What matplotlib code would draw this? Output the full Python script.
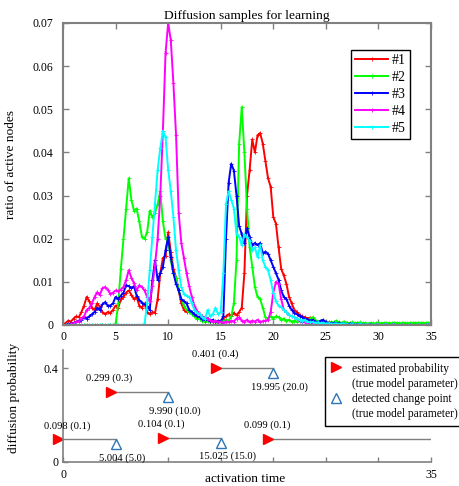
import matplotlib
matplotlib.use("Agg")
import matplotlib.pyplot as plt
import numpy as np
from matplotlib.lines import Line2D
from matplotlib.ticker import FuncFormatter
from matplotlib.transforms import offset_copy

plt.rcParams["font.family"] = ["Liberation Serif", "DejaVu Serif"]

# sample times (every 0.25 time unit, 0..35)
T_END = 35
SAMPLE_TIME = np.arange(0, T_END + 0.125, 0.25)

# ratio of active nodes per diffusion sample, 8 values (2 time units) per row
RATIO_1 = [
    0, 0.0005, 0.001, 0.0008, 0.0015, 0.002, 0.0018, 0.003,
    0.0045, 0.0065, 0.0055, 0.004, 0.0035, 0.005, 0.0042, 0.003,
    0.0025, 0.003, 0.0028, 0.0035, 0.0045, 0.004, 0.006, 0.0065,
    0.0075, 0.008, 0.007, 0.006, 0.0065, 0.0045, 0.004, 0.005,
    0.003, 0.0025, 0.003, 0.0028, 0.006, 0.012, 0.0155, 0.016,
    0.0215, 0.017, 0.013, 0.011, 0.008, 0.005, 0.0035, 0.003,
    0.0035, 0.0028, 0.0025, 0.0015, 0.002, 0.0012, 0.001, 0.0015,
    0.0008, 0.001, 0.0006, 0.0008, 0.001, 0.0015, 0.002, 0.0025,
    0.002, 0.0028, 0.0022, 0.003, 0.004, 0.012, 0.03, 0.036,
    0.043, 0.04, 0.044, 0.0445, 0.042, 0.038, 0.034, 0.032,
    0.025, 0.0235, 0.018, 0.013, 0.0115, 0.0095, 0.0065, 0.005,
    0.0035, 0.003, 0.0023, 0.002, 0.0018, 0.0015, 0.0017, 0.001,
    0.0008, 0.0007, 0.0006, 0.0005, 0.0004, 0.0006, 0.0003, 0.0004,
    0.0003, 0.0005, 0.0002, 0.0003, 0.0004, 0.0002, 0.0003, 0.0002,
    0.0002, 0.0001, 0.0002, 0.0003, 0.0001, 0.0002, 0.0001, 0.0001,
    0.0002, 0.0001, 0.0001, 0, 0.0001, 0, 0.0001, 0,
    0, 0, 0.0001, 0, 0, 0, 0, 0,
    0, 0, 0, 0, 0,
]
RATIO_2 = [
    0, 0, 0, 0, 0, 0, 0, 0,
    0, 0, 0, 0, 0, 0, 0, 0,
    0, 0, 0, 0, 0.0002, 0.005, 0.013, 0.02,
    0.027, 0.034, 0.029, 0.0265, 0.027, 0.024, 0.0205, 0.02,
    0.0215, 0.0265, 0.025, 0.026, 0.028, 0.031, 0.024, 0.02,
    0.0195, 0.015, 0.012, 0.011, 0.008, 0.006, 0.0045, 0.0035,
    0.003, 0.0025, 0.002, 0.0015, 0.0013, 0.001, 0.0008, 0.001,
    0.0008, 0.0006, 0.0008, 0.0005, 0.001, 0.0008, 0.0012, 0.001,
    0.002, 0.005, 0.015, 0.042, 0.0505, 0.04, 0.027, 0.018,
    0.0135, 0.0088, 0.0065, 0.006, 0.004, 0.0018, 0.0015, 0.002,
    0.0015, 0.002, 0.0018, 0.0012, 0.0015, 0.001, 0.0012, 0.0008,
    0.001, 0.0008, 0.0012, 0.0006, 0.0008, 0.001, 0.0015, 0.0018,
    0.0012, 0.0008, 0.001, 0.0006, 0.0008, 0.0005, 0.0007, 0.0006,
    0.001, 0.0006, 0.0005, 0.0008, 0.0005, 0.0004, 0.0006, 0.0005,
    0.0005, 0.0006, 0.0004, 0.0005, 0.0003, 0.0005, 0.0004, 0.0004,
    0.0005, 0.0004, 0.0005, 0.0004, 0.0005, 0.0004, 0.0005, 0.0005,
    0.0004, 0.0005, 0.0005, 0.0004, 0.0005, 0.0005, 0.0005, 0.0005,
    0.0005, 0.0005, 0.0005, 0.0005, 0.0005,
]
RATIO_3 = [
    0, 0, 0.0002, 0.0003, 0.0005, 0.0007, 0.001, 0.0012,
    0.0018, 0.0015, 0.002, 0.0025, 0.003, 0.004, 0.0035, 0.0048,
    0.0053, 0.0045, 0.0045, 0.005, 0.0065, 0.006, 0.0068, 0.0075,
    0.0092, 0.009, 0.0085, 0.009, 0.0068, 0.0058, 0.0052, 0.0048,
    0.0045, 0.0035, 0.0104, 0.015, 0.0104, 0.012, 0.0135, 0.0173,
    0.0203, 0.0157, 0.012, 0.0095, 0.008, 0.006, 0.0055, 0.005,
    0.0035, 0.003, 0.0025, 0.002, 0.0018, 0.0015, 0.0012, 0.0015,
    0.001, 0.0012, 0.0008, 0.001, 0.0008, 0.002, 0.02, 0.033,
    0.0374, 0.0358, 0.03, 0.023, 0.021, 0.019, 0.0224, 0.0203,
    0.0185, 0.019, 0.0185, 0.019, 0.0166, 0.017, 0.0165, 0.015,
    0.0135, 0.012, 0.0105, 0.008, 0.0065, 0.006, 0.0045, 0.0035,
    0.0028, 0.0025, 0.002, 0.0018, 0.0015, 0.0013, 0.001, 0.0012,
    0.0008, 0.0006, 0.001, 0.0012, 0.0006, 0.0005, 0.0004, 0.0004,
    0.0003, 0.0004, 0.0003, 0.0002, 0.0002, 0.0003, 0.0002, 0.0001,
    0.0002, 0.0001, 0.0001, 0.0001, 0, 0.0001, 0, 0,
    0, 0, 0, 0, 0, 0, 0, 0,
    0, 0, 0, 0, 0, 0, 0, 0,
    0, 0, 0, 0, 0,
]
RATIO_4 = [
    0, 0, 0, 0.0002, 0.0004, 0.0006, 0.0008, 0.0015,
    0.002, 0.0035, 0.004, 0.005, 0.0065, 0.0076, 0.007, 0.0085,
    0.0088, 0.0082, 0.0072, 0.0075, 0.008, 0.0078, 0.0082, 0.0088,
    0.0104, 0.0127, 0.011, 0.0097, 0.008, 0.0092, 0.0088, 0.008,
    0.0065, 0.0055, 0.009, 0.014, 0.02, 0.03, 0.045, 0.063,
    0.07, 0.066, 0.056, 0.044, 0.026, 0.019, 0.0155, 0.012,
    0.009, 0.0065, 0.0045, 0.0032, 0.0025, 0.002, 0.0018, 0.0015,
    0.0012, 0.0008, 0.001, 0.0006, 0.0008, 0.0005, 0.0008, 0.0006,
    0.001, 0.0008, 0.0015, 0.0018, 0.001, 0.0008, 0.0012, 0.0006,
    0.001, 0.0008, 0.0012, 0.0006, 0.0009, 0.001, 0.0012, 0.003,
    0.0075, 0.01, 0.0095, 0.006, 0.0035, 0.003, 0.0023, 0.002,
    0.0018, 0.0015, 0.001, 0.0008, 0.0006, 0.0005, 0.0004, 0.0004,
    0.0003, 0.0003, 0.0002, 0.0002, 0.0001, 0.0002, 0.0001, 0,
    0, 0, 0, 0, 0, 0, 0, 0,
    0, 0, 0, 0, 0, 0, 0, 0,
    0, 0, 0, 0, 0, 0, 0, 0,
    0, 0, 0, 0, 0, 0, 0, 0,
    0, 0, 0, 0, 0,
]
RATIO_5 = [
    0, 0, 0, 0, 0, 0, 0, 0,
    0, 0, 0, 0, 0, 0, 0, 0,
    0, 0, 0, 0, 0, 0, 0, 0,
    0, 0, 0, 0, 0, 0, 0, 0.0002,
    0.005, 0.0127, 0.0203, 0.028, 0.036, 0.041, 0.045, 0.0435,
    0.036, 0.031, 0.025, 0.0173, 0.0127, 0.0088, 0.0072, 0.0068,
    0.0065, 0.005, 0.0035, 0.0028, 0.0025, 0.0018, 0.0013, 0.0035,
    0.002, 0.0025, 0.004, 0.0025, 0.003, 0.012, 0.028, 0.031,
    0.029, 0.027, 0.021, 0.0205, 0.0185, 0.021, 0.0203, 0.0195,
    0.0173, 0.018, 0.0157, 0.0185, 0.015, 0.0135, 0.0127, 0.0104,
    0.0074, 0.0055, 0.0045, 0.0042, 0.0035, 0.003, 0.0023, 0.002,
    0.0018, 0.0015, 0.0012, 0.001, 0.0012, 0.0008, 0.0006, 0.0007,
    0.0005, 0.0006, 0.0004, 0.0005, 0.0003, 0.0004, 0.0003, 0.0002,
    0.0003, 0.0002, 0.0003, 0.0002, 0.0002, 0.0001, 0.0002, 0.0001,
    0.0001, 0.0002, 0.0001, 0.0001, 0.0001, 0, 0.0001, 0,
    0, 0, 0, 0, 0, 0, 0, 0,
    0, 0, 0, 0, 0, 0, 0, 0,
    0, 0, 0, 0, 0,
]
SAMPLE_NAMES = ["#1", "#2", "#3", "#4", "#5"]
SAMPLE_COLORS = ["#ff0000", "#00ff00", "#0000ff", "#ff00ff", "#00ffff"]

# learned model (true values in brackets)
EST_PROB = [0.098, 0.299, 0.104, 0.401, 0.099]
TRUE_PROB = [0.1, 0.3, 0.1, 0.4, 0.1]
EST_CHANGE = [5.004, 9.990, 15.025, 19.995]
TRUE_CHANGE = [5.0, 10.0, 15.0, 20.0]

SPINE_GRAY = "#808080"
CHANGE_BLUE = "#2e75b6"


def plot_samples(ax):
    series = [RATIO_1, RATIO_2, RATIO_3, RATIO_4, RATIO_5]
    for values, name, color in zip(series, SAMPLE_NAMES, SAMPLE_COLORS):
        assert len(values) == len(SAMPLE_TIME)
        ax.plot(SAMPLE_TIME, values, color=color, lw=1.4, marker="+", ms=3.2, mew=0.6, label=name)

    ax.set_xlim(0, T_END)
    ax.set_ylim(0, 0.07)
    ax.set_xticks(range(0, T_END + 1, 5))
    ax.set_yticks(np.arange(0, 0.0701, 0.01))
    ax.yaxis.set_major_formatter(FuncFormatter(lambda v, _: "0" if abs(v) < 1e-9 else f"{v:.2f}"))
    ax.tick_params(direction="in", top=True, right=True, length=4, width=1, color=SPINE_GRAY, labelsize=8.5)
    ax.tick_params(axis="x", pad=4)
    ax.tick_params(axis="y", pad=7)
    for spine in ax.spines.values():
        spine.set_color(SPINE_GRAY)
        spine.set_linewidth(1.5)

    ax.set_title("Diffusion samples for learning", fontsize=9.7, pad=3)
    ax.set_ylabel("ratio of active nodes", fontsize=9.6)
    ax.yaxis.set_label_coords(-0.125, 0.53)
    leg = ax.legend(loc="upper right", bbox_to_anchor=(0.962, 0.934), fontsize=10, numpoints=1,
                    handlelength=2.4, handletextpad=0.25, labelspacing=0.28, borderpad=0.3,
                    fancybox=False, framealpha=1, edgecolor="black")
    leg.get_frame().set_linewidth(1)


def plot_model(fig, ax):
    starts = [0.0] + EST_CHANGE
    ends = EST_CHANGE + [T_END]
    # markers sit beside the line ends: tip of > at the start, top of ^ on the line
    left_of = offset_copy(ax.transData, fig=fig, x=-3.6, y=0, units="points")
    below = offset_copy(ax.transData, fig=fig, x=0, y=-3.8, units="points")

    for x0, x1, p, tp in zip(starts, ends, EST_PROB, TRUE_PROB):
        ax.plot([x0, x1], [p, p], color="#7f7f7f", lw=1)
        ax.plot(x0, p, marker=">", ms=7.5, color="#ff0000", ls="none", transform=left_of, clip_on=False)
        ax.annotate(f"{p:.3f} ({tp:.1f})", xy=(max(x0 - 0.6, 0.4), p), xytext=(0, 9.5),
                    textcoords="offset points", ha="center", va="center", fontsize=7.6,
                    annotation_clip=False)

    for c, tc, p in zip(EST_CHANGE, TRUE_CHANGE, EST_PROB[:-1]):
        ax.plot(c, p, marker="^", ms=7.5, mfc="white", mec=CHANGE_BLUE, mew=1, ls="none", transform=below)
        ax.annotate(f"{c:.3f} ({tc:.1f})", xy=(c + 0.6, p), xytext=(0, -13.7),
                    textcoords="offset points", ha="center", va="center", fontsize=7.6)

    ax.set_xlim(0, T_END)
    ax.set_ylim(0, 0.4766)
    ax.set_xticks(range(0, T_END + 1, 5))
    ax.set_xticklabels(["0", "", "", "", "", "", "", "35"])
    ax.set_yticks([0, 0.4])
    ax.set_yticklabels(["0", "0.4"])
    ax.tick_params(direction="in", length=3.5, width=1, color=SPINE_GRAY, labelsize=8.5)
    ax.tick_params(axis="x", pad=5)
    ax.tick_params(axis="y", pad=3.6)
    for side in ("top", "right"):
        ax.spines[side].set_visible(False)
    for side in ("left", "bottom"):
        ax.spines[side].set_color(SPINE_GRAY)
        ax.spines[side].set_linewidth(1.2)

    ax.set_xlabel("activation time", fontsize=9.6)
    ax.xaxis.set_label_coords(0.495, -0.1)
    ax.set_ylabel("diffusion probability", fontsize=9.6)
    ax.yaxis.set_label_coords(-0.117, 0.57)

    blank = Line2D([], [], ls="none")
    handles = [
        Line2D([], [], marker=">", ms=7.5, color="#ff0000", ls="none"),
        blank,
        Line2D([], [], marker="^", ms=7.5, mfc="white", mec=CHANGE_BLUE, mew=1, ls="none"),
        blank,
    ]
    labels = ["estimated probability", "(true model parameter)",
              "detected change point", "(true model parameter)"]
    leg = fig.legend(handles, labels, loc="upper left", bbox_to_anchor=(0.6935, 0.2778),
                     fontsize=8.3, handlelength=1.0, handletextpad=0.86, labelspacing=0.28,
                     borderpad=0.5, fancybox=False, framealpha=1, edgecolor="black")
    leg.get_frame().set_linewidth(1)


def main():
    fig = plt.figure(figsize=(4.6, 4.86), dpi=100)
    ax_top = fig.add_axes([0.137, 0.3313, 0.800, 0.6214])
    ax_bottom = fig.add_axes([0.137, 0.0494, 0.800, 0.2304])
    plot_samples(ax_top)
    plot_model(fig, ax_bottom)
    fig.savefig("out.png", dpi=100)
    plt.close(fig)


if __name__ == "__main__":
    main()
